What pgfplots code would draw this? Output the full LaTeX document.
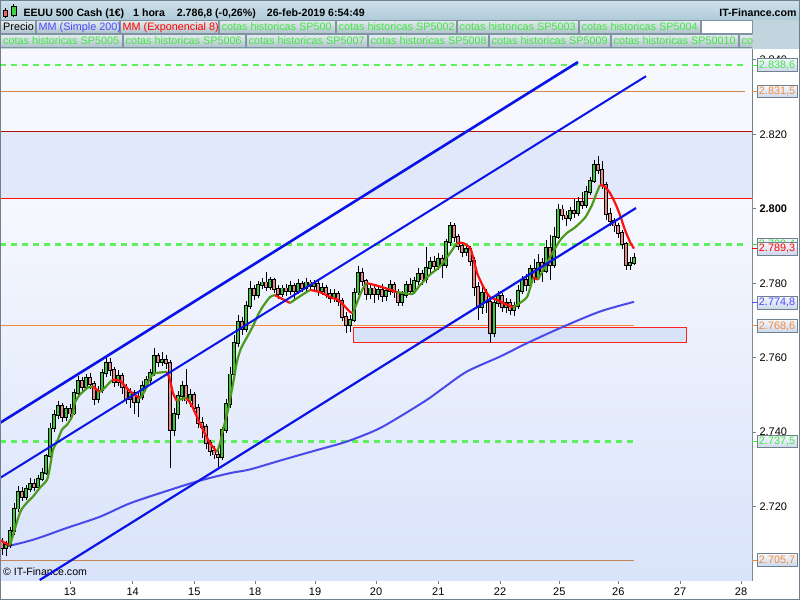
\documentclass[border=0pt]{standalone}
\usepackage{pgfplots}
\pgfplotsset{compat=1.18}
\usepackage{pgfplotstable}
\usepackage{fontspec}
\setmainfont{Liberation Sans}

\definecolor{axisgray}{HTML}{70808C}
\definecolor{bgtop}{HTML}{F6F8FE}
\definecolor{bgbot}{HTML}{D9E3FA}
\definecolor{band}{HTML}{E1E8F9}
\definecolor{chan}{HTML}{0A14E6}
\definecolor{ma}{HTML}{4A4AEA}
\definecolor{emag}{HTML}{4C9A1C}
\definecolor{emar}{HTML}{FF1010}
\definecolor{cotag}{HTML}{5CF05C}
\definecolor{cotagt}{HTML}{40E840}
\definecolor{cotao}{HTML}{F28A3A}
\definecolor{upc}{HTML}{3CC83C}
\definecolor{dnc}{HTML}{E88A8A}
\definecolor{boxred}{HTML}{FF2020}
\definecolor{boxfill}{HTML}{D8E2F8}
\definecolor{hdrtop}{HTML}{CFE2EC}
\definecolor{hdrbot}{HTML}{AFCAD8}
\definecolor{hdrmid}{HTML}{C2D4DE}
\definecolor{tabtop}{HTML}{E4ECEF}
\definecolor{tabbot}{HTML}{AFC1CB}
\definecolor{tabline}{HTML}{7E94A2}
\definecolor{lbltop}{HTML}{F6F8FC}
\definecolor{lblbot}{HTML}{CCD8EE}
\definecolor{mmblue}{HTML}{4A4AFF}
\definecolor{darkred}{HTML}{B01010}
\definecolor{iconred}{HTML}{F06060}
\definecolor{icongreen}{HTML}{40D040}

\newcommand{\tabfont}{\fontsize{10.8}{12}\selectfont}
\newcommand{\tab}[5]{%
  \shade[top color=tabtop,bottom color=tabbot] (#1,#3) rectangle (#2,#3-13);
  \draw[tabline,line width=0.6pt] (#1,#3) rectangle (#2,#3-13);
  \node[anchor=base west,inner sep=0pt,text=#4,font=\tabfont] at (#1+2.5,#3-10.2) {#5};}
\newcommand{\vlab}[3]{%
  \draw[#2,line width=0.8pt] (#1) -- ++(5pt,0pt);
  \shade[top color=lbltop,bottom color=lblbot] ([xshift=5pt,yshift=6.3pt]#1) rectangle ([xshift=45pt,yshift=-6.3pt]#1);
  \draw[axisgray,line width=0.6pt] ([xshift=5pt,yshift=6.3pt]#1) rectangle ([xshift=45pt,yshift=-6.3pt]#1);
  \node[text=#2,inner sep=0pt,font=\tabfont] at ([xshift=25pt,yshift=-0.3pt]#1) {#3};}

\pgfplotstableread{
x o h l c
2 2710.5 2711.5 2707.0 2709.0
6 2709.0 2710.8 2706.8 2709.8
10 2709.8 2714.5 2709.0 2713.5
14 2713.5 2721.0 2712.5 2719.5
18 2719.5 2725.5 2718.5 2724.0
22 2724.0 2725.2 2721.5 2722.5
26 2722.5 2725.8 2721.8 2724.8
30 2724.8 2727.8 2723.9 2726.0
34 2726.0 2727.3 2724.2 2725.2
38 2725.2 2728.6 2724.6 2727.5
42 2727.5 2730.5 2726.8 2729.0
46 2729.0 2734.2 2728.5 2733.5
50 2733.5 2742.5 2733.0 2741.0
54 2741.0 2746.0 2740.0 2744.5
58 2744.5 2748.5 2743.6 2747.0
62 2747.0 2747.8 2742.8 2744.0
66 2744.0 2747.0 2743.0 2746.2
70 2746.2 2747.5 2743.8 2745.0
74 2745.0 2751.6 2744.5 2750.5
78 2750.5 2755.0 2749.6 2753.8
82 2753.8 2754.8 2750.5 2752.0
86 2752.0 2755.6 2751.2 2754.6
90 2754.6 2755.8 2751.5 2753.0
94 2753.0 2753.8 2747.2 2749.0
98 2749.0 2752.5 2747.8 2751.2
102 2751.2 2757.0 2750.5 2755.8
106 2755.8 2760.5 2754.8 2758.5
110 2758.5 2759.8 2755.0 2756.8
114 2756.8 2757.5 2752.0 2753.5
118 2753.5 2756.8 2752.5 2755.2
122 2755.2 2756.0 2750.2 2752.0
126 2752.0 2753.0 2747.5 2749.0
130 2749.0 2751.8 2746.5 2750.5
134 2750.5 2751.2 2745.0 2748.0
138 2748.0 2750.8 2744.2 2749.5
142 2749.5 2753.8 2748.6 2752.5
146 2752.5 2755.2 2751.5 2754.0
150 2754.0 2757.0 2753.2 2756.0
154 2756.0 2762.5 2755.2 2760.5
158 2760.5 2761.2 2757.5 2758.8
162 2758.8 2761.5 2757.8 2759.5
166 2759.5 2760.8 2757.0 2758.5
170 2758.5 2759.5 2730.5 2740.5
174 2740.5 2746.5 2739.0 2744.8
178 2744.8 2751.0 2743.5 2749.8
182 2749.8 2753.8 2748.5 2752.5
186 2752.5 2757.0 2747.5 2748.5
190 2748.5 2751.5 2746.8 2750.0
194 2750.0 2750.8 2745.2 2746.5
198 2746.5 2747.5 2741.2 2742.5
202 2742.5 2744.0 2738.5 2741.5
206 2741.5 2742.2 2735.5 2737.2
210 2737.2 2738.0 2733.5 2735.0
214 2735.0 2736.2 2732.8 2734.0
218 2734.0 2735.5 2730.6 2733.2
222 2733.2 2741.5 2732.5 2740.5
226 2740.5 2749.0 2739.8 2747.5
230 2747.5 2757.5 2746.5 2755.5
234 2755.5 2766.0 2754.8 2764.0
238 2764.0 2771.5 2763.0 2769.5
242 2769.5 2771.0 2766.2 2767.8
246 2767.8 2775.2 2767.0 2774.0
250 2774.0 2780.5 2773.0 2778.5
254 2778.5 2779.6 2775.5 2776.8
258 2776.8 2780.5 2776.0 2779.5
262 2779.5 2781.5 2778.4 2780.2
266 2780.2 2783.0 2778.0 2779.0
270 2779.0 2781.8 2778.2 2780.8
274 2780.8 2781.5 2777.5 2778.5
278 2778.5 2779.4 2775.8 2777.0
282 2777.0 2779.5 2776.2 2778.6
286 2778.6 2779.8 2776.6 2777.8
290 2777.8 2780.6 2776.8 2779.2
294 2779.2 2780.0 2775.2 2778.0
298 2778.0 2781.2 2777.2 2779.8
302 2779.8 2780.5 2777.6 2778.6
306 2778.6 2781.5 2777.8 2780.2
310 2780.2 2781.0 2778.2 2779.2
314 2779.2 2780.8 2777.8 2779.8
318 2779.8 2780.5 2776.5 2778.0
322 2778.0 2780.0 2776.8 2778.8
326 2778.8 2779.6 2776.0 2777.2
330 2777.2 2778.4 2774.6 2776.0
334 2776.0 2778.5 2775.0 2777.0
338 2777.0 2777.8 2774.0 2775.2
342 2775.2 2776.0 2769.8 2771.0
346 2771.0 2772.2 2766.5 2768.8
350 2768.8 2771.5 2766.8 2770.2
354 2770.2 2778.6 2769.5 2777.5
358 2777.5 2784.5 2776.8 2782.8
362 2782.8 2784.0 2779.2 2780.5
366 2780.5 2781.2 2775.5 2777.2
370 2777.2 2780.0 2775.8 2778.6
374 2778.6 2779.5 2774.8 2777.0
378 2777.0 2779.4 2775.6 2778.2
382 2778.2 2779.8 2775.0 2776.5
386 2776.5 2778.8 2775.2 2777.8
390 2777.8 2781.0 2776.8 2779.5
394 2779.5 2780.4 2776.0 2777.5
398 2777.5 2778.5 2773.8 2775.0
402 2775.0 2778.0 2773.8 2776.8
406 2776.8 2780.6 2776.0 2779.5
410 2779.5 2781.5 2777.0 2778.0
414 2778.0 2781.8 2777.2 2780.5
418 2780.5 2784.2 2779.6 2782.5
422 2782.5 2783.5 2779.5 2781.0
426 2781.0 2789.8 2780.0 2784.0
430 2784.0 2787.0 2782.8 2785.8
434 2785.8 2787.4 2783.2 2784.5
438 2784.5 2788.0 2783.5 2786.5
442 2786.5 2787.5 2781.5 2785.0
446 2785.0 2792.0 2784.2 2791.0
450 2791.0 2796.5 2790.0 2795.5
454 2795.5 2796.2 2791.2 2792.5
458 2792.5 2793.2 2788.8 2790.0
462 2790.0 2791.0 2787.0 2788.5
466 2788.5 2790.2 2787.2 2789.2
470 2789.2 2790.0 2784.5 2786.0
474 2786.0 2787.0 2776.5 2779.0
478 2779.0 2780.2 2770.0 2773.5
482 2773.5 2779.5 2771.8 2777.5
486 2777.5 2778.5 2772.0 2775.0
490 2775.0 2776.0 2764.0 2766.5
494 2766.5 2776.0 2765.5 2774.8
498 2774.8 2778.0 2773.6 2776.5
502 2776.5 2777.5 2772.2 2773.5
506 2773.5 2776.0 2772.0 2774.8
510 2774.8 2775.8 2771.5 2772.8
514 2772.8 2775.0 2771.2 2773.8
518 2773.8 2779.4 2773.0 2778.0
522 2778.0 2782.0 2777.2 2780.8
526 2780.8 2782.5 2778.0 2779.5
530 2779.5 2785.0 2779.0 2783.8
534 2783.8 2786.5 2780.0 2781.5
538 2781.5 2787.8 2780.8 2785.5
542 2785.5 2786.8 2780.2 2783.2
546 2783.2 2791.5 2782.8 2789.5
550 2789.5 2793.0 2781.0 2785.0
554 2785.0 2795.0 2784.0 2792.5
558 2792.5 2801.2 2791.8 2799.8
562 2799.8 2801.0 2797.0 2798.2
566 2798.2 2799.5 2795.5 2797.5
570 2797.5 2800.6 2796.6 2799.5
574 2799.5 2802.5 2797.5 2798.8
578 2798.8 2803.2 2798.0 2801.8
582 2801.8 2804.5 2799.8 2801.0
586 2801.0 2806.0 2800.2 2804.5
590 2804.5 2808.6 2803.6 2807.5
594 2807.5 2813.2 2806.8 2811.8
598 2811.8 2814.2 2809.2 2810.5
602 2810.5 2812.8 2805.2 2806.5
606 2806.5 2807.2 2797.0 2798.5
610 2798.5 2800.2 2795.5 2796.8
614 2796.8 2797.5 2793.8 2795.5
618 2795.5 2796.2 2792.2 2793.5
622 2793.5 2794.2 2789.2 2790.5
626 2790.5 2791.2 2783.6 2784.8
630 2784.8 2787.0 2783.5 2785.5
634 2785.5 2788.0 2785.0 2786.8
}\candles

\begin{document}
\begin{tikzpicture}[x=1pt,y=1pt]
% ---------- header ----------
\fill[white] (0,0) rectangle (800,-600);
\shade[top color=hdrtop,bottom color=hdrbot] (0,0) rectangle (800,-20);
\fill[hdrmid] (0,-20) rectangle (800,-49);
% icon
\draw[black,line width=0.6pt] (5.5,-8) -- (5.5,-18);
\fill[iconred,draw=black,line width=0.5pt] (3.5,-10) rectangle (7.5,-16.5);
\draw[black,line width=0.6pt] (13.5,-4) -- (13.5,-17);
\fill[icongreen,draw=black,line width=0.5pt] (11,-6) rectangle (16,-15.5);
\begin{scope}[font=\bfseries\fontsize{10.6}{12}\selectfont]
\node[anchor=base west,inner sep=0pt] at (23.3,-16.2) {EEUU 500 Cash (1€)};
\node[anchor=base west,inner sep=0pt] at (133,-16.2) {1 hora};
\node[anchor=base west,inner sep=0pt] at (176.7,-16.2) {2.786,8 (-0,26\%)};
\node[anchor=base west,inner sep=0pt] at (266.7,-16.2) {26-feb-2019 6:54:49};
\node[anchor=base east,inner sep=0pt] at (796.7,-16.2) {IT-Finance.com};
\end{scope}
% tabs row 2
\tab{0.5}{35.5}{-20.5}{black}{Precio}
\tab{36}{119}{-20.5}{mmblue}{MM (Simple 200)}
\tab{120}{218}{-20.5}{red}{MM (Exponencial 8)}
\tab{219}{335}{-20.5}{cotagt}{cotas historicas SP500}
\tab{336}{456}{-20.5}{cotagt}{cotas historicas SP5002}
\tab{457}{578}{-20.5}{cotagt}{cotas historicas SP5003}
\tab{579}{700}{-20.5}{cotagt}{cotas historicas SP5004}
\fill[white] (701,-20.5) rectangle (752,-33.5);
\draw[tabline,line width=0.6pt] (701,-20.5) rectangle (752,-33.5);
% tabs row 3
\tab{0.5}{122}{-34.5}{cotagt}{cotas historicas SP5005}
\tab{123}{245}{-34.5}{cotagt}{cotas historicas SP5006}
\tab{246}{367}{-34.5}{cotagt}{cotas historicas SP5007}
\tab{368}{488}{-34.5}{cotagt}{cotas historicas SP5008}
\tab{489}{610}{-34.5}{cotagt}{cotas historicas SP5009}
\tab{611}{738}{-34.5}{cotagt}{cotas historicas SP50010}
\begin{scope}
\clip (739,-34) rectangle (752,-48);
\tab{739}{760}{-34.5}{cotagt}{cotas}
\end{scope}

% ---------- axis ----------
\begin{axis}[
  at={(0pt,-580pt)}, anchor=south west, scale only axis,
  width=752pt, height=531pt,
  xmin=0, xmax=752, ymin=2700.3, ymax=2842.9,
  axis line style={draw=axisgray, line width=0.8pt},
  xtick={70,132.7,194.3,255,315,376,438.3,500,559.3,618.3,680,741},
  xticklabels={13,14,15,18,19,20,21,22,25,26,27,28},
  ytick={2720,2740,2760,2780,2800,2820,2840},
  yticklabels={2.720,2.740,2.760,2.780,\textbf{2.800},2.820,2.840},
  xtick pos=left, ytick pos=right, tick align=outside,
  major tick length=4pt,
  tick style={axisgray, line width=0.7pt},
  ticklabel style={font=\fontsize{11}{13}\selectfont, text=black},
  yticklabel style={anchor=west},
  clip=true,
]
% backgrounds
\fill[bgtop] (axis cs:0,2802.9) rectangle (axis cs:752,2842.9);
\shade[top color=bgtop,bottom color=bgbot] (axis cs:0,2700.3) rectangle (axis cs:752,2802.9);
\fill[band] (axis cs:0,2802.9) rectangle (axis cs:752,2820.9);
\node[anchor=base west,inner sep=0pt,font=\fontsize{10.6}{12}\selectfont] at (axis cs:3,2701.6) {© IT-Finance.com};

% horizontal levels
\addplot[darkred, line width=0.8pt] coordinates {(0,2820.9) (752,2820.9)};
\addplot[emar, line width=0.8pt] coordinates {(0,2802.9) (752,2802.9)};
\addplot[cotao!70!gray, line width=0.7pt] coordinates {(0,2831.5) (745,2831.5)};
\addplot[cotao, line width=0.7pt] coordinates {(0,2768.6) (634,2768.6)};
\addplot[cotao!60!gray, line width=0.7pt] coordinates {(0,2705.7) (634,2705.7)};
\addplot[cotag, line width=2.2pt, dash pattern=on 6pt off 5pt] coordinates {(0,2838.6) (745,2838.6)};
\addplot[cotag, line width=2.2pt, dash pattern=on 6pt off 5pt] coordinates {(0,2790.4) (745,2790.4)};
\addplot[cotag, line width=2.2pt, dash pattern=on 6pt off 5pt] coordinates {(0,2737.5) (634,2737.5)};

% zone rectangle
\draw[boxred, fill=boxfill, line width=0.8pt] (axis cs:353,2768.2) rectangle (axis cs:686,2764.2);

% MA 200
\addplot[ma, line width=2pt, smooth] coordinates {
(0,2708.9) (33,2711.1) (67,2714.3) (100,2717.3) (130,2720.9) (170,2724.5)
(200,2727.0) (230,2729.0) (250,2730.0) (283,2732.6) (317,2735.2) (347,2737.5)
(377,2740.7) (400,2744.2) (427,2748.7) (443,2751.8) (467,2756.3) (500,2760.3)
(527,2763.9) (563,2768.3) (600,2772.4) (634,2775.0)};

% candles: wicks
\addplot[draw=none, mark=none, forget plot, error bars/.cd, y dir=minus, y explicit,
  error mark=none, error bar style={draw=black, line width=0.8pt}]
  table[x=x, y=h, y error expr=\thisrow{h}-\thisrow{l}] {\candles};
% bodies outline
\addplot[draw=none, mark=none, forget plot, error bars/.cd, y dir=minus, y explicit,
  error mark=none, error bar style={draw=black, line width=3.2pt}]
  table[x=x, y expr={max(\thisrow{o},\thisrow{c})+0.25}, y error expr={abs(\thisrow{o}-\thisrow{c})+0.5}] {\candles};
% up bodies
\addplot[draw=none, mark=none, forget plot, restrict expr to domain={\thisrow{c}-\thisrow{o}}{0:1000},
  error bars/.cd, y dir=minus, y explicit,
  error mark=none, error bar style={draw=upc, line width=1.8pt}]
  table[x=x, y=c, y error expr=\thisrow{c}-\thisrow{o}] {\candles};
% down bodies
\addplot[draw=none, mark=none, forget plot, restrict expr to domain={\thisrow{o}-\thisrow{c}}{0.01:1000},
  error bars/.cd, y dir=minus, y explicit,
  error mark=none, error bar style={draw=dnc, line width=1.8pt}]
  table[x=x, y=o, y error expr=\thisrow{o}-\thisrow{c}] {\candles};

% EMA 8 segments
\pgfplotsset{emaG/.style={emag, line width=2.2pt, smooth, tension=0.4}, emaR/.style={emar, line width=2.2pt, smooth, tension=0.4}}
\addplot[emaR] coordinates {(0,2711.0) (10,2709.6)};
\addplot[emaG] coordinates {(10,2709.6) (20,2718.4) (27,2721.1) (33,2722.7) (40,2725.1) (47,2727.2) (50,2730.7) (53,2735.3) (57,2737.4) (62,2740.7) (67,2742.0) (72,2744.2) (75,2748.0) (80,2750.1) (88,2752.0) (93,2752.2)};
\addplot[emaR] coordinates {(93,2752.2) (97,2751.4) (100,2750.8)};
\addplot[emaG] coordinates {(100,2750.8) (105,2752.0) (112,2754.0)};
\addplot[emaR] coordinates {(112,2754.0) (120,2753.8) (130,2751.0) (140,2749.1)};
\addplot[emaG] coordinates {(140,2749.1) (145,2751.2) (150,2754.5) (155,2755.8) (167,2756.2)};
\addplot[emaR] coordinates {(167,2756.2) (170,2754.0) (173,2750.5) (177,2748.3)};
\addplot[emaG] coordinates {(177,2748.3) (182,2749.0) (187,2749.2)};
\addplot[emaR] coordinates {(187,2749.2) (192,2747.0) (197,2744.1) (203,2740.6) (210,2737.1) (217,2734.7)};
\addplot[emaG] coordinates {(217,2734.7) (220,2737.0) (223,2740.6) (228,2746.0) (233,2753.0) (237,2759.0) (241,2762.5) (247,2765.5) (253,2768.5) (258,2771.5) (263,2773.8) (270,2776.3) (275,2776.8)};
\addplot[emaR] coordinates {(275,2776.8) (282,2775.8) (290,2774.7)};
\addplot[emaG] coordinates {(290,2774.7) (300,2776.5) (310,2778.2)};
\addplot[emaR] coordinates {(310,2778.2) (320,2777.6) (330,2776.3) (338,2775.5) (343,2774.3) (350,2772.3) (353,2772.0)};
\addplot[emaG] coordinates {(353,2772.0) (358,2775.5) (363,2778.7) (367,2780.0)};
\addplot[emaR] coordinates {(367,2780.0) (375,2779.5) (385,2778.7) (397,2777.6)};
\addplot[emaG] coordinates {(397,2777.6) (405,2777.3) (413,2777.2) (420,2779.5) (430,2782.3) (440,2784.5) (450,2788.1) (457,2790.8)};
\addplot[emaR] coordinates {(457,2790.8) (463,2790.8) (470,2789.5) (473,2787.1) (477,2782.8) (480,2780.9) (485,2778.2) (490,2776.3) (497,2775.5) (507,2774.2) (513,2773.6)};
\addplot[emaG] coordinates {(513,2773.6) (517,2774.2) (527,2776.3) (533,2781.5)};
\addplot[emaR] coordinates {(533,2781.5) (538,2781.0)};
\addplot[emaG] coordinates {(538,2781.0) (545,2784.5) (550,2787.0) (560,2791.5) (567,2793.5) (575,2795.0) (585,2797.6) (592,2801.0) (596,2803.8) (600,2806.4)};
\addplot[emaR] coordinates {(600,2806.4) (605,2805.9) (610,2804.2) (615,2801.6) (620,2798.3) (625,2794.3) (630,2791.1) (634,2789.3)};

% channel lines
\addplot[chan, line width=2.6pt] coordinates {(0,2742.5) (578,2839.4)};
\addplot[chan, line width=2.0pt] coordinates {(0,2727.7) (646,2835.6)};
\addplot[chan, line width=2.2pt] coordinates {(39.7,2700.3) (636,2800.2)};

% anchors for right-hand labels
\coordinate (L1) at (axis cs:752,2838.6);
\coordinate (L2) at (axis cs:752,2831.5);
\coordinate (L3) at (axis cs:752,2790.4);
\coordinate (L4) at (axis cs:752,2789.3);
\coordinate (L5) at (axis cs:752,2774.8);
\coordinate (L6) at (axis cs:752,2768.6);
\coordinate (L7) at (axis cs:752,2737.5);
\coordinate (L8) at (axis cs:752,2705.7);
\end{axis}

% right-hand value labels
\vlab{L1}{cotagt}{2.838,6}
\vlab{L2}{cotao}{2.831,5}
\vlab{L3}{cotagt}{2.790,4}
\vlab{L4}{red}{2.789,3}
\vlab{L5}{mmblue}{2.774,8}
\vlab{L6}{cotao}{2.768,6}
\vlab{L7}{cotagt}{2.737,5}
\vlab{L8}{cotao}{2.705,7}

% outer frame
\draw[axisgray,line width=0.8pt] (0.4,-0.4) rectangle (799.6,-599.6);
\pgfresetboundingbox
\path[use as bounding box] (0,0) rectangle (800,-600);
\end{tikzpicture}
\end{document}
